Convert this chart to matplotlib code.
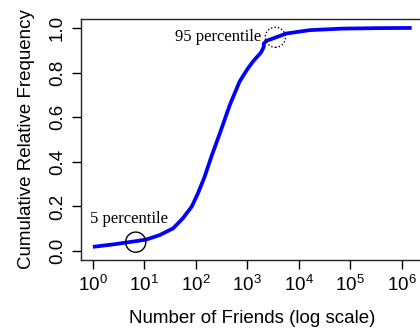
import matplotlib
matplotlib.use("Agg")
import matplotlib.pyplot as plt

friends = [1, 2.5, 7.1, 11, 20, 36.3, 56, 83, 110, 148, 200, 295, 457, 708,
           1000, 1290, 1780, 1885, 2090, 2090, 2340, 3160, 5750, 16200,
           70800, 316000, 1550000]
cum_freq = [0.019, 0.030, 0.045, 0.052, 0.072, 0.102, 0.147, 0.199, 0.259,
            0.333, 0.423, 0.530, 0.655, 0.760, 0.815, 0.850, 0.886, 0.894,
            0.916, 0.930, 0.942, 0.953, 0.975, 0.990, 0.997, 0.999, 1.000]

pct_x = [6.8, 3500]
pct_y = [0.040, 0.958]
pct_labels = ["5 percentile", "95 percentile"]

xticks = [1, 10, 100, 1000, 10000, 100000, 1000000]
xtick_labels = [r"$10^{0}$", r"$10^{1}$", r"$10^{2}$", r"$10^{3}$",
                r"$10^{4}$", r"$10^{5}$", r"$10^{6}$"]
yticks = [0.0, 0.2, 0.4, 0.6, 0.8, 1.0]
ytick_labels = ["0.0", "0.2", "0.4", "0.6", "0.8", "1.0"]

plt.rcParams['font.family'] = ['Liberation Sans', 'DejaVu Sans']
plt.rcParams['mathtext.fontset'] = 'custom'
plt.rcParams['mathtext.rm'] = 'Liberation Sans'
plt.rcParams['mathtext.it'] = 'Liberation Sans'
plt.rcParams['mathtext.default'] = 'regular'

W, H = 420, 335
fig = plt.figure(figsize=(4.2, 3.35), dpi=100)
ax = fig.add_axes([80.5 / W, 75 / H, 344 / W, 241 / H])

ax.plot(friends, cum_freq, color=(0, 0, 1), lw=2.7, solid_capstyle='butt',
        solid_joinstyle='round')
ax.set_xscale('log')
ax.set_xlim(10 ** -0.24, 10 ** 6.44)
ax.set_ylim(-0.04, 1.04)

# percentile circles
ax.scatter([pct_x[0]], [pct_y[0]], s=14.5 ** 2, facecolors='none',
           edgecolors='black', linewidths=1.0, zorder=3)
ax.scatter([pct_x[1]], [pct_y[1]], s=14.5 ** 2, facecolors='none',
           edgecolors='black', linewidths=1.0, linestyle=(0, (1, 1.5)),
           zorder=3)

ax.annotate(pct_labels[0], xy=(pct_x[0], pct_y[0]), xytext=(-5, 17),
            textcoords='offset points', ha='center', va='center',
            family='Liberation Serif', fontsize=12)
ax.annotate(pct_labels[1], xy=(pct_x[1], pct_y[1]), xytext=(-10, 0.5),
            textcoords='offset points', ha='right', va='center',
            family='Liberation Serif', fontsize=12)

ax.set_xticks(xticks)
ax.set_xticklabels(xtick_labels)
ax.minorticks_off()
ax.set_yticks(yticks)
ax.set_yticklabels(ytick_labels, rotation=90, va='center')

ax.tick_params(axis='both', direction='out', length=6.5, width=1,
               labelsize=13.5, colors='black')
ax.tick_params(axis='x', pad=4)
ax.tick_params(axis='y', pad=4)

for s in ax.spines.values():
    s.set_linewidth(1.0)
    s.set_color('#222222')

ax.set_xlabel("Number of Friends (log scale)", fontsize=13.5, labelpad=11)
ax.set_ylabel("Cumulative Relative Frequency", fontsize=13.5, labelpad=10)

fig.savefig("out.png", dpi=100)
